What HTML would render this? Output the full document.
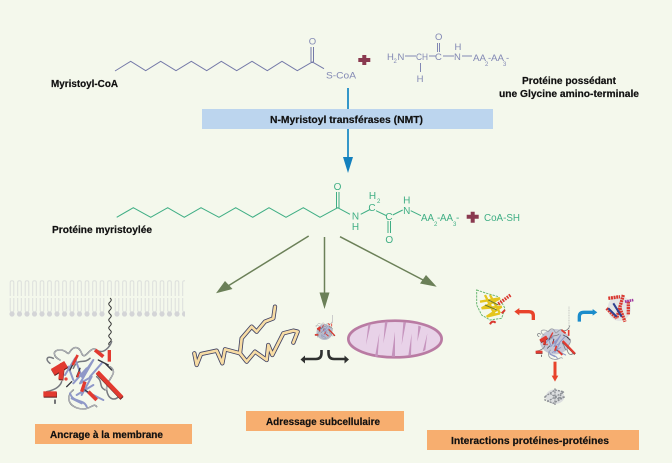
<!DOCTYPE html>
<html><head><meta charset="utf-8"><style>
html,body{margin:0;padding:0;background:#f4f8ec}
svg{display:block;font-family:"Liberation Sans",sans-serif}
.b{font-weight:700;font-size:10px;fill:#111;stroke:#111;stroke-width:.2}
.p{font-size:9.5px;fill:#8288b4}
.g{font-size:10px;fill:#3fae84}
.s{font-size:6px}
.art{filter:blur(.35px)}
</style></head><body>
<svg width="672" height="463" viewBox="0 0 672 463" xmlns="http://www.w3.org/2000/svg">
<defs>
<pattern id="t1" width="7.5" height="18" patternUnits="userSpaceOnUse" x="9" y="280">
<path d="M1.2 16V2.5Q1.2 .8 3 .8T4.8 2.500V16" fill="none" stroke="#dcdfdc" stroke-width="1"/>
</pattern>
<pattern id="t2" width="7.5" height="16" patternUnits="userSpaceOnUse" x="9" y="298">
<path d="M1.2 0V12Q1.2 14 3 14T4.800 12V0" fill="none" stroke="#dcdfdc" stroke-width="1"/>
</pattern>
<pattern id="hd" width="7.5" height="6" patternUnits="userSpaceOnUse" x="9" y="311">
<circle cx="3" cy="3" r="2.600" fill="#d4d5d7"/>
</pattern>
<g id="prot" fill="none" stroke-linecap="round" stroke-linejoin="round">
<path d="M60 60C40 50 35 30 60 30S80 50 90 35 115 15 125 40 150 15 170 30 210 20 215 5M30 70C15 60 20 45 40 55M20 155C45 150 60 140 65 125M100 150C80 165 80 195 115 205S160 185 170 200M210 80C240 100 195 120 200 150S225 185 240 165M150 55C130 75 115 50 100 85M170 110C190 125 175 140 195 150" stroke="#777a80" stroke-width="4.500"/>
<path d="M60 60C40 50 35 30 60 30S80 50 90 35 115 15 125 40 150 15 170 30M100 150C80 165 80 195 115 205S160 185 170 200M210 80C240 100 195 120 200 150" stroke="#e6e7ec" stroke-width="1.500"/>
<path d="M75 105L105 55 125 110 160 60 120 130 155 110 125 165M90 160C100 190 130 175 140 200M150 110L185 70M130 150L190 180M100 130L140 85M85 80L100 120M110 165L160 135M95 175L125 190" stroke="#8f98c8" stroke-width="6"/>
<path d="M90 90L110 50M110 110L120 85M135 150L170 175M195 70L215 90M45 180V190M175 60L205 75M80 140L95 125" stroke="#33333c" stroke-width="4"/>
<g stroke="#5e2020" stroke-linecap="butt" transform="translate(1 3)">
<path d="M38 96L78 72" stroke-width="21"/><path d="M67 70L62 118" stroke-width="14"/><path d="M10 162H50" stroke-width="16"/><path d="M172 96L245 172" stroke-width="13"/>
</g>
<g stroke="#e23a30" stroke-linecap="butt">
<path d="M38 96L78 72" stroke-width="21"/>
<path d="M67 70L62 118" stroke-width="14"/>
<path d="M10 162H50" stroke-width="16"/>
<path d="M172 96L245 172" stroke-width="13"/>
<path d="M165 30L190 50" stroke-width="11"/>
<path d="M208 30V65" stroke-width="10"/>
<path d="M113 45L98 75" stroke-width="8"/>
<path d="M135 125L125 155" stroke-width="10"/>
<path d="M145 155L170 180" stroke-width="11"/>
<path d="M118 95L112 112" stroke-width="6"/>
</g>
<circle cx="78" cy="117" r="5" fill="#e8453d" stroke="none"/>
</g>
</defs>
<rect width="672" height="463" fill="#f4f8ec"/>

<!-- myristoyl-CoA -->
<polyline points="115,71 130.7,61.3 145.7,70.7 160.7,61.3 176,70.7 191.3,61.3 206.7,70.7 221.3,61.3 236.7,70.7 252,61.3 267.3,70.7 282,61.3 297.3,70.7 312.3,62 324,68.7" fill="none" stroke="#7479a8" stroke-width="1"/>
<path d="M311 47V62M313.5 47V62" stroke="#7479a8" stroke-width="1"/>
<text class="p" x="312.5" y="44.5" text-anchor="middle">O</text>
<text class="p" x="326" y="78.5" textLength="30" lengthAdjust="spacingAndGlyphs">S-CoA</text>
<path d="M362.3 55H366.3V58H370.3V62H366.3V65H362.3V62H358.3V58H362.3Z" fill="#8a3a50"/>

<!-- protein -->
<g stroke="#8288b4" stroke-width="1" fill="none">
<path d="M405 56H416M429 56H436M443 56H454M462 56H472M420.5 63V72M437.5 43V52M439.5 43V52"/>
</g>
<text class="p" x="387" y="60">H</text><text class="p s" x="393.5" y="63">2</text><text class="p" x="397.5" y="60">N</text>
<text class="p" x="416" y="60" textLength="12" lengthAdjust="spacingAndGlyphs">CH</text>
<text class="p" x="435" y="60">C</text>
<text class="p" x="435" y="40">O</text>
<text class="p" x="454" y="60">N</text><text class="p" x="454.5" y="50">H</text>
<text class="p" x="420" y="82" text-anchor="middle">H</text>
<text class="p" x="473" y="61" textLength="13" lengthAdjust="spacingAndGlyphs">AA</text><text class="p s" x="485" y="66">2</text><text class="p" x="488" y="61">-</text><text class="p" x="491" y="61" textLength="13" lengthAdjust="spacingAndGlyphs">AA</text><text class="p s" x="503" y="66">3</text><text class="p" x="506" y="61">-</text>

<text class="b" x="51" y="87" textLength="67" lengthAdjust="spacingAndGlyphs">Myristoyl-CoA</text>
<text class="b" x="522" y="84" textLength="94" lengthAdjust="spacingAndGlyphs">Protéine possédant</text>
<text class="b" x="499" y="97" textLength="140" lengthAdjust="spacingAndGlyphs">une Glycine amino-terminale</text>

<!-- enzyme -->
<path d="M348 88V160" stroke="#3597c9" stroke-width="2"/>
<path d="M343 157H353L348 173Z" fill="#1380bd"/>
<rect x="202" y="109" width="291" height="20" fill="#bcd5ee"/>
<text class="b" x="270" y="123" textLength="153" lengthAdjust="spacingAndGlyphs">N-Myristoyl transférases (NMT)</text>

<!-- green -->
<polyline points="116.7,217.3 133.3,207.7 150.7,217.3 167.7,207.7 184.3,217.3 201,207.7 219,217.3 235.7,207.7 252.7,217.3 269,207.7 286,217.3 303.3,207.7 320,217.3 337.7,207.7 350,214.3" fill="none" stroke="#3fae84" stroke-width="1.1"/>
<path d="M336.5 192V208M339 192V208M360.7 214.3L370 209.5M376 210.7L386 215.5M388 221V233M390.5 221V233M392.7 215L402.7 210M410.7 210.7L421 215.7" stroke="#3fae84" stroke-width="1" fill="none"/>
<text class="g" x="337.5" y="190" text-anchor="middle">O</text>
<text class="g" x="355.5" y="219.5" text-anchor="middle">N</text>
<text class="g" x="355.5" y="230" text-anchor="middle">H</text>
<text class="g" x="372" y="211" text-anchor="middle">C</text>
<text class="g" x="372.5" y="199" text-anchor="middle">H</text>
<text class="g s" x="377" y="203">2</text>
<text class="g" x="389" y="220" text-anchor="middle">C</text>
<text class="g" x="389.3" y="243" text-anchor="middle">O</text>
<text class="g" x="406.7" y="214" text-anchor="middle">N</text>
<text class="g" x="406.7" y="203.5" text-anchor="middle">H</text>
<text class="g" x="421" y="221" textLength="13" lengthAdjust="spacingAndGlyphs">AA</text><text class="g s" x="434" y="226">2</text><text class="g" x="437" y="221">-</text><text class="g" x="440" y="221" textLength="13" lengthAdjust="spacingAndGlyphs">AA</text><text class="g s" x="453" y="226">3</text><text class="g" x="456" y="221">-</text>
<path d="M470.7 211.7H474.7V214.7H478.7V218.7H474.7V222.7H470.7V218.7H466.7V214.7H470.7Z" fill="#8a3a50"/>
<text class="g" x="484" y="221" textLength="36" lengthAdjust="spacingAndGlyphs">CoA-SH</text>
<text class="b" x="52" y="233" textLength="100" lengthAdjust="spacingAndGlyphs">Protéine myristoylée</text>

<!-- green arrows -->
<g stroke="#6b8058" stroke-width="1.5"><path d="M308.7 236L228 286"/><path d="M324.5 237V295"/><path d="M340 236.7L425 281"/></g>
<g fill="#6b8058">
<path d="M216 293.3L225 281 232.5 289Z"/><path d="M319.5 292.5H329.5L324.5 309Z"/><path d="M436.7 286.7L420 283.5 426 275Z"/>
</g>

<g class="art">
<!-- membrane -->
<rect x="9" y="280" width="176" height="18" fill="url(#t1)"/>
<rect x="9" y="298" width="176" height="14" fill="url(#t2)"/>
<rect x="9" y="311" width="176" height="6" fill="url(#hd)"/>
<rect x="107" y="296" width="5" height="22" fill="#f4f8ec"/>
<path d="M110 298q2.500 2 0 4t0 4 0 4 0 4 0 4 0 4 0 4 0 4 0 4 0 4 0 4 0 4" fill="none" stroke="#333" stroke-width="1"/>
<use href="#prot" transform="translate(40 340) scale(.3333)"/>

<!-- address -->
<g transform="translate(185 290) scale(.3333)" fill="none" stroke-linejoin="round" stroke-linecap="round">
<g stroke="#3e4163" stroke-width="13">
<path d="M28 190L35 225 48 192 95 182 112 220 120 178 165 190 170 145 200 110 215 125 240 95 265 85 270 50"/>
<path d="M165 190L185 215 210 185 245 210 250 165 262 195 295 130 325 122 338 125 325 158"/>
</g>
<g stroke="#f7dca4" stroke-width="8">
<path d="M28 190L35 225 48 192 95 182 112 220 120 178 165 190 170 145 200 110 215 125 240 95 265 85 270 50"/>
<path d="M165 190L185 215 210 185 245 210 250 165 262 195 295 130 325 122 338 125 325 158"/>
</g>
</g>
<ellipse cx="324.500" cy="332" rx="8" ry="8" fill="#b9bdcc"/>
<use href="#prot" transform="translate(314 321) scale(.085)"/>
<path d="M332.500 315V323" stroke="#ccc" stroke-width="1"/>
<g fill="none" stroke="#2f3130" stroke-width="2.600">
<path d="M321.500 350V353Q321.500 359 316 359H303"/><path d="M328.500 350V353Q328.500 359 334 359H347"/>
</g>
<path d="M300.500 359.500L305 355.500V363.500ZM349 359.500L344.500 355.500V363.500Z" fill="#2f3130"/>

<!-- mitochondrion -->
<g transform="translate(340 315) scale(.3333)">
<ellipse cx="165" cy="72" rx="140" ry="55" fill="#e8d2e8" stroke="#b97ba3" stroke-width="8"/>
<path d="M85 28L92 28 78 90ZM135 20L143 20 130 85ZM190 22L198 22 185 90ZM235 32L243 35 232 80ZM105 125L113 125 118 55ZM155 125L165 125 165 50ZM205 122L213 122 215 55ZM248 110L256 105 262 55Z" fill="#c594bd"/>
</g>

<!-- interaction -->
<g transform="translate(470 285) scale(.3333)">
<path d="M20 15L50 25 85 35 105 70 95 100 60 105 35 90 20 60Z" fill="none" stroke="#6cb873" stroke-width="3" stroke-dasharray="7 3"/>
<path d="M30 50L90 40 35 70 95 65 50 95 90 85M45 30L75 90M60 30L90 85" stroke="#e5c51c" stroke-width="7" fill="none"/>
<path d="M45 60L80 75M55 45L85 60" stroke="#6f7a2a" stroke-width="3"/>
<path d="M85 57L122 30" stroke="#d9382f" stroke-width="10" stroke-dasharray="5 3"/>
<path d="M60 118Q66 105 77 113M95 85L105 75" stroke="#d9382f" stroke-width="6" fill="none"/>
<path d="M190 105V92Q190 80 176 80H146" fill="none" stroke="#e8432b" stroke-width="10"/>
<path d="M133 80L148 69V91Z" fill="#e8432b"/>
</g>
<g transform="translate(460 275) scale(.3333)">
<path d="M358 140V125Q358 112 372 112H400" fill="none" stroke="#1a8ccb" stroke-width="10"/>
<path d="M412 112L398 102V122Z" fill="#1a8ccb"/>
<path d="M285 260V305" stroke="#e8432b" stroke-width="9"/>
<path d="M285 320L275 302H295Z" fill="#e8432b"/>
<ellipse cx="285" cy="200" rx="45" ry="38" fill="#c5c8d6"/>
<use href="#prot" transform="translate(222 150) scale(.5)"/>
<path d="M327 95V165" stroke="#a9abaa" stroke-width="2" stroke-dasharray="3 2"/>
<ellipse cx="285" cy="365" rx="28" ry="22" fill="#dcdedf"/>
<g fill="none" stroke="#8c9095" stroke-width="4" stroke-dasharray="6 3">
<path d="M255 365L285 345 310 350 295 370 315 365 280 385 255 375Z"/><path d="M270 355L300 375M285 340L285 390M262 380L312 350"/>
</g>
<ellipse cx="478" cy="100" rx="35" ry="38" fill="#d8d8e0" opacity=".6"/>
<path d="M445 70L480 65M440 100L470 130M490 60L470 130M505 80L505 120M480 100L495 140" stroke="#d9382f" stroke-width="10" stroke-dasharray="6 2" fill="none"/>
<path d="M445 100L470 125M460 85L485 125" stroke="#2f3f8f" stroke-width="6"/>
<path d="M495 80L520 75" stroke="#a03aa0" stroke-width="8" stroke-dasharray="5 2"/>
</g>
</g>

<!-- labels -->
<rect x="35" y="424" width="157" height="20" fill="#f7ae6f"/>
<text class="b" x="50" y="438" textLength="113" lengthAdjust="spacingAndGlyphs">Ancrage à la membrane</text>
<rect x="246" y="411" width="158" height="20" fill="#f7ae6f"/>
<text class="b" x="266" y="425" textLength="114" lengthAdjust="spacingAndGlyphs">Adressage subcellulaire</text>
<rect x="427" y="430" width="212" height="20" fill="#f7ae6f"/>
<text class="b" x="451" y="444" textLength="158" lengthAdjust="spacingAndGlyphs">Interactions protéines-protéines</text>
</svg>
</body></html>
